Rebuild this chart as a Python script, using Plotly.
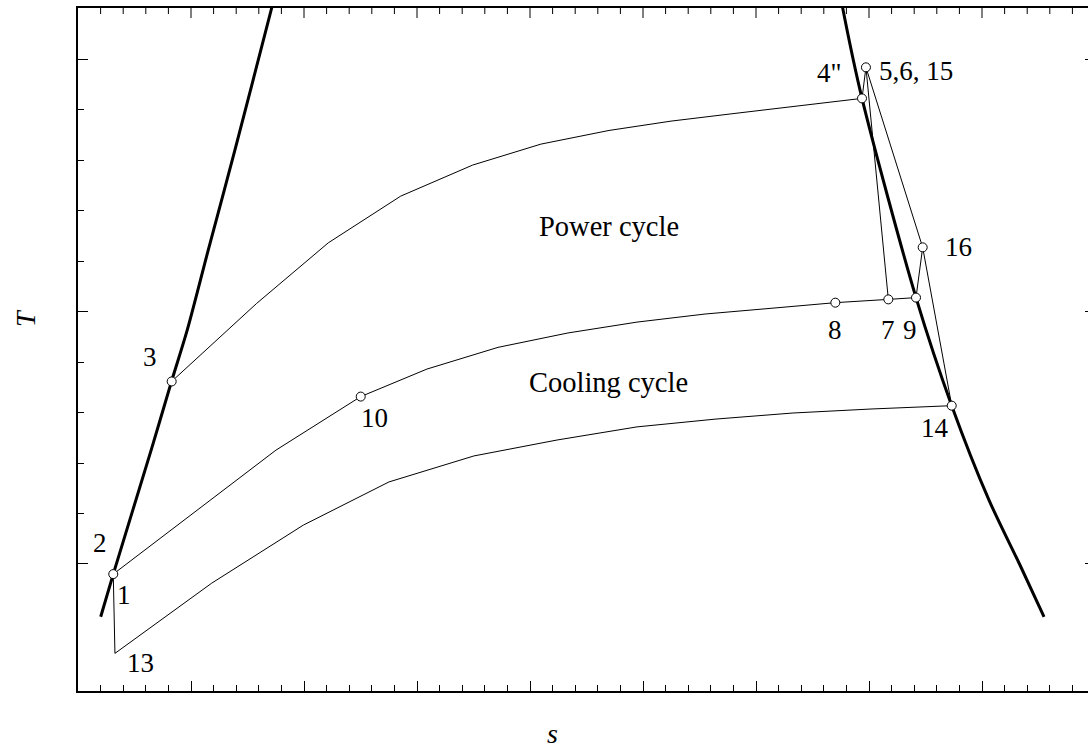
import plotly.graph_objects as go

# ---- data (entropy s, temperature T in arbitrary chart units) ----
dome_left_s = [0.201, 0.312, 0.652, 0.829, 0.967, 1.153, 1.389, 1.714, 1.742]
dome_left_T = [-0.209, -0.040, 0.458, 0.725, 0.927, 1.244, 1.640, 2.202, 2.250]

dome_right_s = [6.748, 6.767, 6.938, 7.416, 7.732, 8.062, 8.336, 8.549]
dome_right_T = [2.250, 2.202, 1.844, 1.055, 0.627, 0.253, -0.004, -0.209]

power_s = [0.829, 1.581, 2.215, 2.856, 3.493, 4.097, 4.699, 5.248, 5.841, 6.389, 6.938]
power_T = [0.723, 1.032, 1.272, 1.457, 1.580, 1.663, 1.717, 1.754, 1.786, 1.816, 1.844]

middle_s = [0.312, 1.752, 2.502, 3.088, 3.717, 4.336, 4.947, 5.549, 6.168, 6.702, 7.171, 7.416]
middle_T = [-0.040, 0.451, 0.663, 0.772, 0.858, 0.915, 0.958, 0.990, 1.014, 1.035, 1.048, 1.055]

cooling_s = [0.327, 1.183, 1.994, 2.752, 3.504, 4.239, 4.947, 5.646, 6.327, 7.027, 7.732]
cooling_T = [-0.354, -0.076, 0.154, 0.325, 0.428, 0.491, 0.543, 0.574, 0.598, 0.614, 0.627]

# state points
state_names = ["1", "3", "10", "4\"", "5", "16", "8", "7", "9", "14", "13"]
state_s = [0.312, 0.829, 2.502, 6.938, 6.973, 7.475, 6.702, 7.171, 7.416, 7.732, 0.327]
state_T = [-0.040, 0.723, 0.663, 1.844, 1.967, 1.254, 1.035, 1.048, 1.055, 0.627, -0.354]
marked_states = ["1", "3", "10", "4\"", "5", "16", "8", "7", "9", "14"]

# connecting segments between state points
segments = [["4\"", "5", "7"], ["5", "16", "14"], ["16", "9"], ["1", "13"]]

# text labels
label_text = ["2", "1", "13", "3", "10", "4\"", "5,6, 15", "16", "8", "7", "9", "14"]
label_s = [0.195, 0.407, 0.549, 0.637, 2.628, 6.646, 7.416, 7.788, 6.699, 7.168, 7.363, 7.584]
label_T = [0.083, -0.123, -0.392, 0.820, 0.578, 1.945, 1.952, 1.255, 0.927, 0.927, 0.927, 0.539]

region_text = ["Power cycle", "Cooling cycle"]
region_s = [4.699, 4.699]
region_T = [1.335, 0.717]

x_major = [0, 1, 2, 3, 4, 5, 6, 7, 8]
x_minor = [round(k * 0.2, 2) for k in range(1, 45) if k % 5 != 0]
y_major = [0, 1, 2]
y_minor = [round(k * 0.2, 2) for k in range(1, 10) if k % 5 != 0]

X_RANGE = [0, 8.938]
Y_RANGE = [-0.503, 2.202]

FONT = "Liberation Serif, Times New Roman, serif"

W, H = 1088, 749
ML, MR, MT, MB = 78, 0, 8, 58
pw, ph = W - ML - MR, H - MT - MB
t_per_px = (Y_RANGE[1] - Y_RANGE[0]) / ph

fig = go.Figure()

for xs, ys in [(dome_left_s, dome_left_T), (dome_right_s, dome_right_T)]:
    fig.add_trace(go.Scatter(x=xs, y=ys, mode="lines",
                             line=dict(color="black", width=3, shape="spline", smoothing=0.8),
                             hoverinfo="skip"))

for xs, ys in [(power_s, power_T), (middle_s, middle_T), (cooling_s, cooling_T)]:
    fig.add_trace(go.Scatter(x=xs, y=ys, mode="lines",
                             line=dict(color="black", width=1), hoverinfo="skip"))

idx = {n: i for i, n in enumerate(state_names)}
for seg in segments:
    fig.add_trace(go.Scatter(x=[state_s[idx[n]] for n in seg],
                             y=[state_T[idx[n]] for n in seg],
                             mode="lines", line=dict(color="black", width=1),
                             hoverinfo="skip"))

fig.add_trace(go.Scatter(x=[state_s[idx[n]] for n in marked_states],
                         y=[state_T[idx[n]] for n in marked_states],
                         mode="markers",
                         marker=dict(symbol="circle", size=9, color="white",
                                     line=dict(color="black", width=1)),
                         hoverinfo="skip"))

# top-edge tick marks (mirror of the bottom axis ticks, pointing inward)
tx, ty = [], []
for v, ln in [(v, 10) for v in x_major[1:]] + [(v, 6) for v in x_minor]:
    tx += [v, v, None]
    ty += [Y_RANGE[1], Y_RANGE[1] - ln * t_per_px, None]
fig.add_trace(go.Scatter(x=tx, y=ty, mode="lines", line=dict(color="black", width=1),
                         hoverinfo="skip", cliponaxis=False))

# invisible trace to carry the right-hand tick axis
fig.add_trace(go.Scatter(x=[0], y=[0], yaxis="y2", mode="none", hoverinfo="skip"))

for t, xs, ys in zip(label_text, label_s, label_T):
    fig.add_annotation(x=xs, y=ys, xref="x", yref="y", text=t, showarrow=False,
                       xanchor="center", yanchor="middle",
                       font=dict(family=FONT, size=27, color="black"))

for t, xs, ys in zip(region_text, region_s, region_T):
    fig.add_annotation(x=xs, y=ys, xref="x", yref="y", text=t, showarrow=False,
                       xanchor="center", yanchor="middle",
                       font=dict(family=FONT, size=28.5, color="black"))

fig.add_annotation(x=(26 - ML) / pw, y=(H - 318 - MB) / ph, xref="paper", yref="paper",
                   text="<i>T</i>", showarrow=False, textangle=-90,
                   xanchor="center", yanchor="middle",
                   font=dict(family=FONT, size=28, color="black"))
fig.add_annotation(x=(552 - ML) / pw, y=(H - 750 - MB) / ph, xref="paper", yref="paper",
                   text="<i>s</i>", showarrow=False,
                   xanchor="center", yanchor="bottom", borderpad=0,
                   font=dict(family=FONT, size=28, color="black"))

tick_common = dict(showgrid=False, zeroline=False, showticklabels=False,
                   tickwidth=1, tickcolor="black", tickmode="array")

fig.update_layout(
    width=W, height=H, autosize=False,
    margin=dict(l=ML, r=MR, t=MT, b=MB, pad=0),
    paper_bgcolor="white", plot_bgcolor="white",
    showlegend=False,
    xaxis=dict(range=X_RANGE, showline=True, linecolor="black", linewidth=2, mirror=True,
               ticks="inside", ticklen=10, tickvals=x_major,
               minor=dict(tickmode="array", tickvals=x_minor, ticks="inside",
                          ticklen=6, tickwidth=1, tickcolor="black", showgrid=False),
               **tick_common),
    yaxis=dict(range=Y_RANGE, showline=True, linecolor="black", linewidth=2, mirror=False,
               ticks="inside", ticklen=10, tickvals=y_major,
               minor=dict(tickmode="array", tickvals=y_minor, ticks="inside",
                          ticklen=6, tickwidth=1, tickcolor="black", showgrid=False),
               **tick_common),
    yaxis2=dict(range=Y_RANGE, overlaying="y", side="right", anchor="x", showline=False,
                ticks="inside", ticklen=3, tickvals=y_major, **tick_common),
)

fig.write_html("out.html")
